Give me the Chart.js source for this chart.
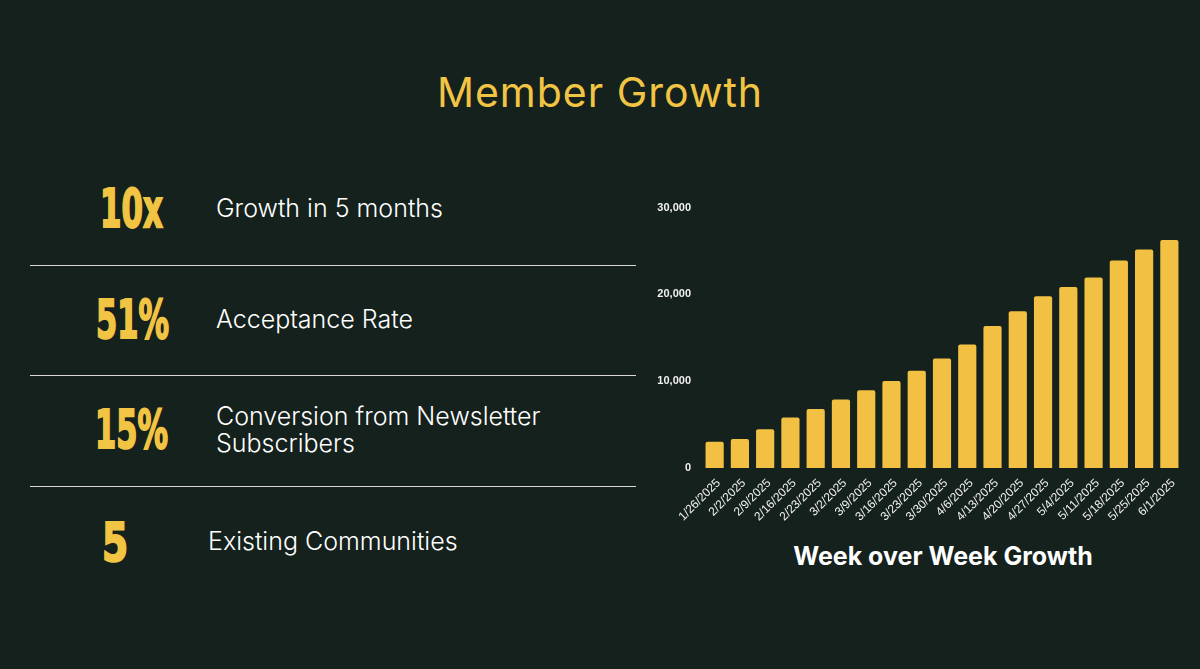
<!DOCTYPE html>
<html>
<head>
<meta charset="utf-8">
<script src="https://cdn.jsdelivr.net/npm/chart.js@4/dist/chart.umd.min.js"></script>
<style>
  html, body { margin: 0; padding: 0; }
  body { width: 1200px; height: 669px; background: #15211c; position: relative; overflow: hidden; font-family: Inter, "Open Sans", sans-serif; }
  .abs { position: absolute; white-space: nowrap; }
  #title { left: 0; width: 1200px; top: 68px; text-align: center; color: #f2c444; font-size: 41px; line-height: 48px; font-weight: 400; letter-spacing: 1px; }
  .num { color: #f2c444; font-family: "DejaVu Sans Condensed", "DejaVu Sans", sans-serif; font-weight: 700; font-size: 44px; line-height: 44px; transform-origin: left top; -webkit-text-stroke: 1.6px #f2c444; }
  .lbl { color: #ffffff; font-size: 25px; line-height: 27px; font-weight: 300; }
  .rule { position: absolute; left: 30px; width: 606px; height: 1px; background: #d8d8d8; }
  #ctitle { left: 640px; width: 606px; top: 540px; text-align: center; color: #ffffff; font-size: 25px; line-height: 32px; font-weight: 700; }
  #wrap { position: absolute; left: 640px; top: 190px; width: 560px; height: 340px; }
</style>
</head>
<body>
<div id="title" class="abs">Member Growth</div>

<div class="abs num" style="left:100px; top:182px; transform: scale(0.78, 1.22);">10x</div>
<div class="abs lbl" style="left:216px; top:195px;">Growth in 5 months</div>
<div class="rule" style="top:265px;"></div>

<div class="abs num" style="left:96px; top:294px; transform: scale(0.77, 1.2);">51%</div>
<div class="abs lbl" style="left:216px; top:306px;">Acceptance Rate</div>
<div class="rule" style="top:375px;"></div>

<div class="abs num" style="left:95px; top:404px; transform: scale(0.77, 1.2);">15%</div>
<div class="abs lbl" style="left:216px; top:403px;">Conversion from Newsletter<br>Subscribers</div>
<div class="rule" style="top:486px;"></div>

<div class="abs num" style="left:102px; top:516px; transform: scale(0.95, 1.22);">5</div>
<div class="abs lbl" style="left:208px; top:528px;">Existing Communities</div>

<div id="wrap"><canvas id="c"></canvas></div>
<div id="ctitle" class="abs">Week over Week Growth</div>

<script>
const weeks = ["1/26/2025","2/2/2025","2/9/2025","2/16/2025","2/23/2025","3/2/2025","3/9/2025","3/16/2025","3/23/2025","3/30/2025","4/6/2025","4/13/2025","4/20/2025","4/27/2025","5/4/2025","5/11/2025","5/18/2025","5/25/2025","6/1/2025"];
const members = [3010, 3350, 4460, 5830, 6790, 7890, 8960, 10030, 11210, 12620, 14220, 16350, 18070, 19790, 20850, 21960, 23900, 25160, 26270];
const yTicks = [0, 10000, 20000, 30000];

new Chart(document.getElementById('c'), {
  type: 'bar',
  data: {
    labels: weeks,
    datasets: [{
      data: members,
      backgroundColor: '#f2c144',
      borderRadius: 2,
      borderSkipped: 'bottom'
    }]
  },
  options: {
    responsive: true,
    maintainAspectRatio: false,
    animation: false,
    layout: { padding: { left: 15, right: 18, top: 16, bottom: 0 } },
    plugins: { legend: { display: false }, tooltip: { enabled: false }, title: { display: false } },
    scales: {
      x: {
        grid: { display: false, drawTicks: false },
        border: { display: false },
        ticks: {
          color: '#f0f0f0',
          font: { family: '"Liberation Sans", Arial, sans-serif', size: 12 },
          minRotation: 45, maxRotation: 45,
          padding: 8,
          labelOffset: 4,
          autoSkip: false
        },
        afterFit: s => { s.height = 62; }
      },
      y: {
        min: 0, max: 30000,
        afterBuildTicks: s => { s.ticks = yTicks.map(v => ({ value: v })); },
        grid: { display: false, drawTicks: false },
        border: { display: false },
        ticks: {
          color: '#f0f0f0',
          font: { family: '"Liberation Sans", Arial, sans-serif', size: 11, weight: 'bold' },
          padding: 11,
          callback: v => v.toLocaleString('en-US')
        },
        afterFit: s => { s.width = 47; }
      }
    }
  }
});
</script>
</body>
</html>
